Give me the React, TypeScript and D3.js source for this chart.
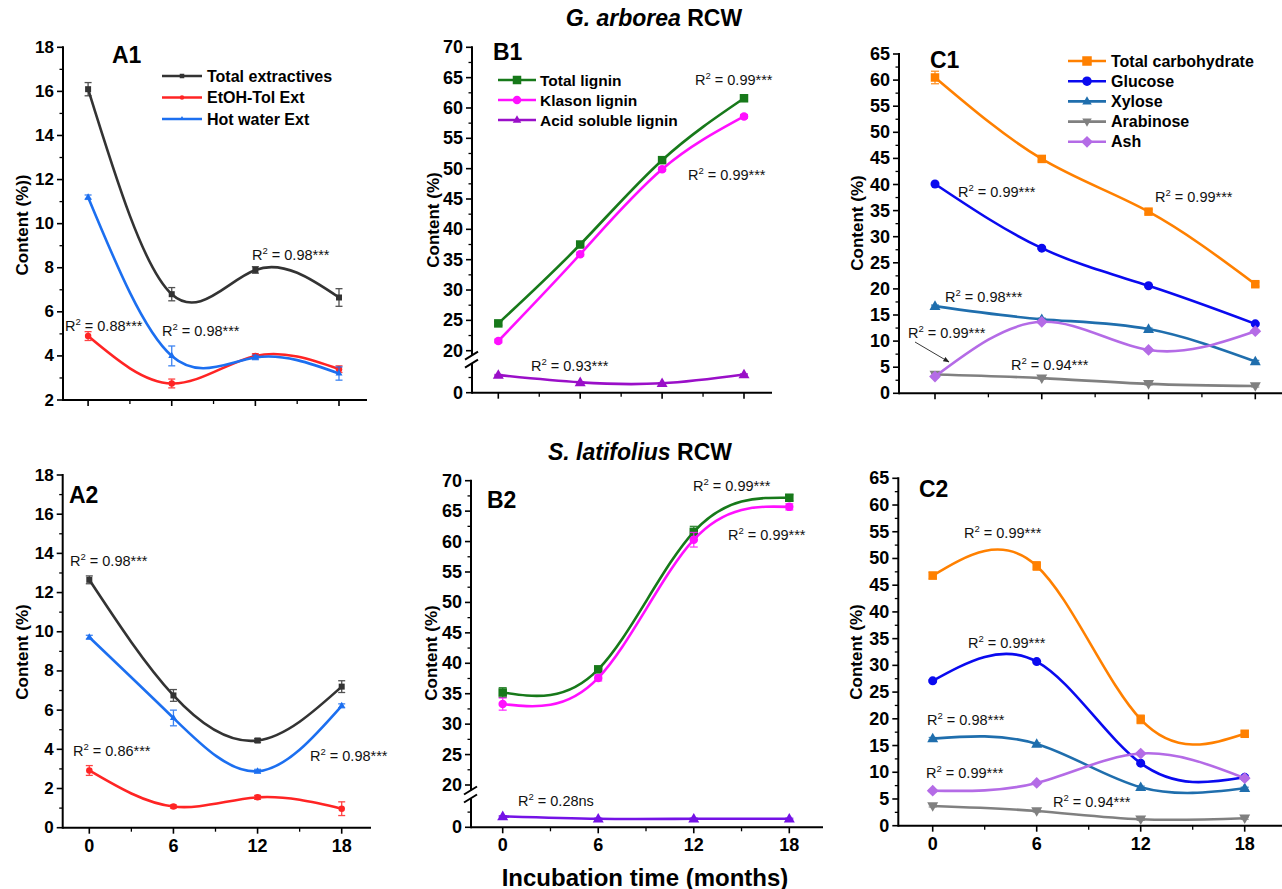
import React from "react";
import * as d3 from "d3";

// ---------- data ----------
const months = [0, 6, 12, 18];
const minorMonths = [3, 9, 15];
const xTickLabels = ["0", "6", "12", "18"];

const a1Total = [16.1, 6.8, 7.9, 6.65];
const a1TotalErr = [0.3, 0.3, 0.15, 0.4];
const a1Etoh = [4.9, 2.75, 4.0, 3.4];
const a1EtohErr = [0.2, 0.2, 0.1, 0.15];
const a1Hot = [11.2, 4.0, 3.93, 3.2];
const a1HotErr = [0.1, 0.45, 0.1, 0.3];

const a2Total = [12.65, 6.75, 4.45, 7.2];
const a2TotalErr = [0.2, 0.3, 0.1, 0.3];
const a2Etoh = [2.92, 1.08, 1.55, 0.97];
const a2EtohErr = [0.25, 0.08, 0.1, 0.35];
const a2Hot = [9.72, 5.6, 2.88, 6.22];
const a2HotErr = [0.1, 0.4, 0.1, 0.1];

const b1Total = [24.5, 37.5, 51.4, 61.6];
const b1TotalErr = [0.3, 0.3, 0.3, 0.3];
const b1Klason = [21.6, 35.9, 49.9, 58.6];
const b1KlasonErr = [0.3, 0.3, 0.3, 0.3];
const b1Asl = [2.9, 1.7, 1.55, 3.0];
const b1AslErr = [0.1, 0.1, 0.1, 0.1];

const b2Total = [35.2, 39.0, 61.6, 67.2];
const b2TotalErr = [0.8, 0.5, 0.9, 0.5];
const b2Klason = [33.3, 37.6, 60.3, 65.7];
const b2KlasonErr = [1.0, 0.5, 1.2, 0.5];
const b2Asl = [1.8, 1.4, 1.4, 1.4];
const b2AslErr = [0.1, 0.1, 0.1, 0.1];

const c1Carb = [60.5, 44.9, 34.8, 20.9];
const c1CarbErr = [1.2, 0.4, 0.4, 0.4];
const c1Glucose = [40.1, 27.8, 20.6, 13.3];
const c1Xylose = [16.7, 14.2, 12.3, 6.1];
const c1Arabinose = [3.6, 2.9, 1.8, 1.4];
const c1Ash = [3.2, 13.7, 8.3, 11.9];

const c2Carb = [46.8, 48.6, 19.9, 17.2];
const c2CarbErr = [0.6, 0.8, 0.8, 0.5];
const c2Glucose = [27.1, 30.7, 11.7, 9.05];
const c2Xylose = [16.3, 15.3, 7.2, 7.0];
const c2Arabinose = [3.7, 2.75, 1.2, 1.4];
const c2Ash = [6.55, 8.0, 13.5, 8.9];

const smallErr = [0.2, 0.2, 0.2, 0.2];

const aYTicks1 = [2, 4, 6, 8, 10, 12, 14, 16, 18];
const aYTicks2 = [0, 2, 4, 6, 8, 10, 12, 14, 16, 18];
const bYTicksUpper = [20, 25, 30, 35, 40, 45, 50, 55, 60, 65, 70];
const bYTicksLower = [0];
const cYTicks = [0, 5, 10, 15, 20, 25, 30, 35, 40, 45, 50, 55, 60, 65];

// ---------- styles ----------
const FONT = "'Liberation Sans', Arial, Helvetica, sans-serif";
const C = {
  total: "#333333",
  etoh: "#ff2424",
  hot: "#1c6ff0",
  tlig: "#17791a",
  klason: "#ff10ff",
  asl1: "#9a0fc8",
  asl2: "#7412e6",
  carb: "#ff8000",
  glu: "#0a0aef",
  xyl: "#1f6ead",
  ara: "#808080",
  ash: "#b46be6",
};

type Series = {
  name: string;
  values: number[];
  err: number[];
  color: string;
  marker: string;
  size: number;
  lower?: boolean;
};

function Marker({ type, x, y, s, color }: any) {
  if (type === "square")
    return <rect x={x - s / 2} y={y - s / 2} width={s} height={s} fill={color} />;
  if (type === "circle") return <circle cx={x} cy={y} r={s / 2} fill={color} />;
  if (type === "tri") {
    const h = s * 0.87;
    return (
      <path
        d={`M${x},${y - h / 2 - 1}L${x + s / 2},${y + h / 2 - 1}L${x - s / 2},${y + h / 2 - 1}Z`}
        fill={color}
      />
    );
  }
  if (type === "tridown") {
    const h = s * 0.87;
    return (
      <path
        d={`M${x},${y + h / 2 + 1}L${x + s / 2},${y - h / 2 + 1}L${x - s / 2},${y - h / 2 + 1}Z`}
        fill={color}
      />
    );
  }
  const r = s * 0.62;
  return <path d={`M${x},${y - r}L${x + r},${y}L${x},${y + r}L${x - r},${y}Z`} fill={color} />;
}

function R2({ x, y, val }: any) {
  return (
    <text x={x} y={y} fontFamily={FONT} fontSize={14.5} fill="#111">
      R
      <tspan dy={-6} fontSize={9.5}>
        2
      </tspan>
      <tspan dy={6}>{" = " + val}</tspan>
    </text>
  );
}

function Panel({ cfg }: any) {
  const xs = d3.scaleLinear().domain([0, 18]).range(cfg.xr);
  const ys = d3.scaleLinear().domain(cfg.yd).range(cfg.yr);
  const yl = cfg.lowerD ? d3.scaleLinear().domain(cfg.lowerD).range(cfg.lowerR) : null;
  const ax = cfg.axisX[0];
  const ay = cfg.baseY;
  const tf = cfg.tickFs;
  const yOf = (s: Series, v: number) => (s.lower && yl ? yl(v) : ys(v));
  const lineGen = (s: Series) =>
    d3
      .line<number>()
      .x((_, i) => xs(months[i]))
      .y((v) => yOf(s, v))
      .curve(d3.curveNatural)(s.values) || "";

  const majors: number[] = cfg.yTicks;
  const step = majors[1] - majors[0];
  const minors = majors.slice(0, -1).map((v) => v + step / 2);
  const cap = cfg.cap;

  return (
    <g>
      {/* axes */}
      <line x1={cfg.axisX[0]} x2={cfg.axisX[1]} y1={ay} y2={ay} stroke="#000" strokeWidth={2} />
      {cfg.brk ? (
        <g>
          <line x1={ax} x2={ax} y1={ay + 1} y2={cfg.brk[1]} stroke="#000" strokeWidth={2} />
          <line x1={ax} x2={ax} y1={cfg.brk[0]} y2={ys(cfg.yd[1]) - 1} stroke="#000" strokeWidth={2} />
          <line x1={ax - 7} x2={ax + 6} y1={cfg.brk[0] + 4} y2={cfg.brk[0] - 4} stroke="#000" strokeWidth={2} />
          <line x1={ax - 7} x2={ax + 6} y1={cfg.brk[1] + 4} y2={cfg.brk[1] - 4} stroke="#000" strokeWidth={2} />
        </g>
      ) : (
        <line x1={ax} x2={ax} y1={ay + 1} y2={ys(cfg.yd[1]) - 1} stroke="#000" strokeWidth={2} />
      )}
      {/* y ticks */}
      {majors.map((v) => (
        <g key={"ym" + v}>
          <line x1={ax - 6} x2={ax} y1={ys(v)} y2={ys(v)} stroke="#000" strokeWidth={1.6} />
          <text
            x={ax - 9}
            y={ys(v)}
            textAnchor="end"
            dominantBaseline="central"
            fontFamily={FONT}
            fontWeight="bold"
            fontSize={tf}
          >
            {v}
          </text>
        </g>
      ))}
      {minors.map((v) => (
        <line key={"yn" + v} x1={ax - 3.5} x2={ax} y1={ys(v)} y2={ys(v)} stroke="#000" strokeWidth={1.3} />
      ))}
      {yl &&
        cfg.lowerTicks.map((v: number) => (
          <g key={"yl" + v}>
            <line x1={ax - 6} x2={ax} y1={yl(v)} y2={yl(v)} stroke="#000" strokeWidth={1.6} />
            <text
              x={ax - 9}
              y={yl(v)}
              textAnchor="end"
              dominantBaseline="central"
              fontFamily={FONT}
              fontWeight="bold"
              fontSize={tf}
            >
              {v}
            </text>
          </g>
        ))}
      {yl && <line x1={ax - 3.5} x2={ax} y1={yl(2.5)} y2={yl(2.5)} stroke="#000" strokeWidth={1.3} />}
      {/* x ticks */}
      {months.map((m, i) => (
        <g key={"xm" + m}>
          <line x1={xs(m)} x2={xs(m)} y1={ay} y2={ay + 6} stroke="#000" strokeWidth={1.6} />
          {cfg.xLabels && (
            <text
              x={xs(m)}
              y={ay + 24}
              textAnchor="middle"
              fontFamily={FONT}
              fontWeight="bold"
              fontSize={18}
            >
              {xTickLabels[i]}
            </text>
          )}
        </g>
      ))}
      {minorMonths.map((m) => (
        <line key={"xn" + m} x1={xs(m)} x2={xs(m)} y1={ay} y2={ay + 4} stroke="#000" strokeWidth={1.3} />
      ))}
      {/* series */}
      {cfg.series.map((s: Series) => (
        <g key={s.name}>
          <path d={lineGen(s)} fill="none" stroke={s.color} strokeWidth={2.6} />
          {s.values.map((v, i) => {
            const e = s.err[i];
            const x = xs(months[i]);
            const y1 = yOf(s, v - e);
            const y2 = yOf(s, v + e);
            return (
              <g key={"e" + i} stroke={s.color} strokeWidth={1.3} opacity={0.85}>
                <line x1={x} x2={x} y1={y1} y2={y2} />
                <line x1={x - cap} x2={x + cap} y1={y1} y2={y1} />
                <line x1={x - cap} x2={x + cap} y1={y2} y2={y2} />
              </g>
            );
          })}
          {s.values.map((v, i) => (
            <Marker key={"m" + i} type={s.marker} x={xs(months[i])} y={yOf(s, v)} s={s.size} color={s.color} />
          ))}
        </g>
      ))}
      {/* panel label */}
      <text
        x={cfg.label[1]}
        y={cfg.label[2]}
        dominantBaseline="central"
        fontFamily={FONT}
        fontWeight="bold"
        fontSize={23}
      >
        {cfg.label[0]}
      </text>
      {/* y title */}
      <text
        transform={`translate(${cfg.yTitle[1]},${cfg.yTitle[2]}) rotate(-90)`}
        textAnchor="middle"
        dominantBaseline="central"
        fontFamily={FONT}
        fontWeight="bold"
        fontSize={17}
      >
        {cfg.yTitle[0]}
      </text>
      {cfg.r2.map((r: any, i: number) => (
        <R2 key={"r" + i} x={r[0]} y={r[1]} val={r[2]} />
      ))}
      {/* legend */}
      {cfg.legend &&
        cfg.series.map((s: Series, i: number) => {
          const L = cfg.legend;
          const yy = L.y0 + i * L.dy;
          return (
            <g key={"lg" + i}>
              <line x1={L.x0} x2={L.x1} y1={yy} y2={yy} stroke={s.color} strokeWidth={2.6} />
              <Marker type={s.marker} x={(L.x0 + L.x1) / 2} y={yy} s={L.ms} color={s.color} />
              <text
                x={L.tx}
                y={yy}
                dominantBaseline="central"
                fontFamily={FONT}
                fontWeight="bold"
                fontSize={L.fs}
              >
                {s.name}
              </text>
            </g>
          );
        })}
    </g>
  );
}

const aSeries = (tot: number[], totE: number[], et: number[], etE: number[], hot: number[], hotE: number[]): Series[] => [
  { name: "Total extractives", values: tot, err: totE, color: C.total, marker: "square", size: 6 },
  { name: "EtOH-Tol Ext", values: et, err: etE, color: C.etoh, marker: "circle", size: 6.5 },
  { name: "Hot water Ext", values: hot, err: hotE, color: C.hot, marker: "tri", size: 7 },
];

const bSeries = (tot: number[], totE: number[], kl: number[], klE: number[], asl: number[], aslE: number[], aslColor: string): Series[] => [
  { name: "Total lignin", values: tot, err: totE, color: C.tlig, marker: "square", size: 8.5 },
  { name: "Klason lignin", values: kl, err: klE, color: C.klason, marker: "circle", size: 8.5 },
  { name: "Acid soluble lignin", values: asl, err: aslE, color: aslColor, marker: "tri", size: 11, lower: true },
];

const cSeries = (carb: number[], carbE: number[], glu: number[], xyl: number[], ara: number[], ash: number[]): Series[] => [
  { name: "Total carbohydrate", values: carb, err: carbE, color: C.carb, marker: "square", size: 8.5 },
  { name: "Glucose", values: glu, err: smallErr, color: C.glu, marker: "circle", size: 9 },
  { name: "Xylose", values: xyl, err: smallErr, color: C.xyl, marker: "tri", size: 11 },
  { name: "Arabinose", values: ara, err: smallErr, color: C.ara, marker: "tridown", size: 11 },
  { name: "Ash", values: ash, err: smallErr, color: C.ash, marker: "diamond", size: 9.5 },
];

const panels = [
  {
    xr: [88.1, 339], axisX: [63, 367], yd: [2, 18], yr: [400, 47.3], baseY: 400, yTicks: aYTicks1, tickFs: 17,
    cap: 3.5, xLabels: false, label: ["A1", 112, 55], yTitle: ["Content (%))", 22, 225],
    series: aSeries(a1Total, a1TotalErr, a1Etoh, a1EtohErr, a1Hot, a1HotErr),
    r2: [[252, 260, "0.98***"], [65, 331, "0.88***"], [162, 336, "0.98***"]],
    legend: { x0: 162, x1: 202, tx: 207, y0: 76, dy: 21.5, ms: 4.5, fs: 16 },
  },
  {
    xr: [89.3, 341.7], axisX: [62.7, 371], yd: [0, 18], yr: [827.7, 475], baseY: 827.7, yTicks: aYTicks2, tickFs: 17,
    cap: 3.5, xLabels: true, label: ["A2", 69, 495], yTitle: ["Content (%)", 22, 652],
    series: aSeries(a2Total, a2TotalErr, a2Etoh, a2EtohErr, a2Hot, a2HotErr),
    r2: [[70, 566, "0.98***"], [73, 756, "0.86***"], [310, 761, "0.98***"]],
    legend: null,
  },
  {
    xr: [498.3, 744], axisX: [472, 772], yd: [20, 70], yr: [350.7, 47.3], baseY: 392.7, yTicks: bYTicksUpper, tickFs: 18,
    lowerD: [0, 4], lowerR: [392.7, 368.4], lowerTicks: bYTicksLower, brk: [355.7, 363.7],
    cap: 4, xLabels: false, label: ["B1", 493, 52], yTitle: ["Content (%)", 433, 220],
    series: bSeries(b1Total, b1TotalErr, b1Klason, b1KlasonErr, b1Asl, b1AslErr, C.asl1),
    r2: [[695, 85, "0.99***"], [688, 180, "0.99***"], [531, 371, "0.93***"]],
    legend: { x0: 498, x1: 536, tx: 540, y0: 80, dy: 20, ms: 8.5, fs: 15.5 },
  },
  {
    xr: [502.7, 789.3], axisX: [471, 823], yd: [20, 70], yr: [785, 480.7], baseY: 827.3, yTicks: bYTicksUpper, tickFs: 18,
    lowerD: [0, 4], lowerR: [827.3, 803], lowerTicks: bYTicksLower, brk: [790.5, 798.5],
    cap: 4, xLabels: true, label: ["B2", 487, 500], yTitle: ["Content (%)", 431, 653],
    series: bSeries(b2Total, b2TotalErr, b2Klason, b2KlasonErr, b2Asl, b2AslErr, C.asl2),
    r2: [[693, 491, "0.99***"], [728, 540, "0.99***"], [518, 806, "0.28ns"]],
    legend: null,
  },
  {
    xr: [935, 1255.3], axisX: [899, 1282], yd: [0, 65], yr: [393.3, 54], baseY: 393.3, yTicks: cYTicks, tickFs: 18,
    cap: 4, xLabels: false, label: ["C1", 930, 60], yTitle: ["Content (%)", 857, 223],
    series: cSeries(c1Carb, c1CarbErr, c1Glucose, c1Xylose, c1Arabinose, c1Ash),
    r2: [[958, 197, "0.99***"], [1155, 202, "0.99***"], [945, 302, "0.98***"], [908, 338, "0.99***"], [1011, 370, "0.94***"]],
    legend: { x0: 1068, x1: 1106, tx: 1111, y0: 61, dy: 20.2, ms: 9.5, fs: 16 },
  },
  {
    xr: [932.7, 1244.7], axisX: [898.3, 1282], yd: [0, 65], yr: [825.7, 478.3], baseY: 825.7, yTicks: cYTicks, tickFs: 18,
    cap: 4, xLabels: true, label: ["C2", 919, 489], yTitle: ["Content (%)", 856, 652],
    series: cSeries(c2Carb, c2CarbErr, c2Glucose, c2Xylose, c2Arabinose, c2Ash),
    r2: [[964, 538, "0.99***"], [968, 648, "0.99***"], [927, 725, "0.98***"], [926, 778, "0.99***"], [1053, 807, "0.94***"]],
    legend: null,
  },
];

export default function App() {
  return (
    <svg
      width={1282}
      height={889}
      style={{ position: "absolute", left: 0, top: 0, background: "#fff" }}
    >
      <defs>
        <marker id="arr" viewBox="0 0 10 10" refX="9" refY="5" markerWidth="7" markerHeight="7" orient="auto">
          <path d="M0,1L10,5L0,9Z" fill="#222" />
        </marker>
      </defs>
      <rect width={1282} height={889} fill="#fff" />
      <text x={654} y={18} textAnchor="middle" dominantBaseline="central" fontFamily={FONT} fontWeight="bold" fontSize={23}>
        <tspan fontStyle="italic">G. arborea</tspan> RCW
      </text>
      <text x={640} y={452} textAnchor="middle" dominantBaseline="central" fontFamily={FONT} fontWeight="bold" fontSize={23}>
        <tspan fontStyle="italic">S. latifolius</tspan> RCW
      </text>
      <text x={645} y={877} textAnchor="middle" dominantBaseline="central" fontFamily={FONT} fontWeight="bold" fontSize={24}>
        Incubation time (months)
      </text>
      {panels.map((p, i) => (
        <Panel key={i} cfg={p} />
      ))}
      <line x1={915} y1={342} x2={949} y2={362} stroke="#222" strokeWidth={0.9} markerEnd="url(#arr)" />
    </svg>
  );
}
